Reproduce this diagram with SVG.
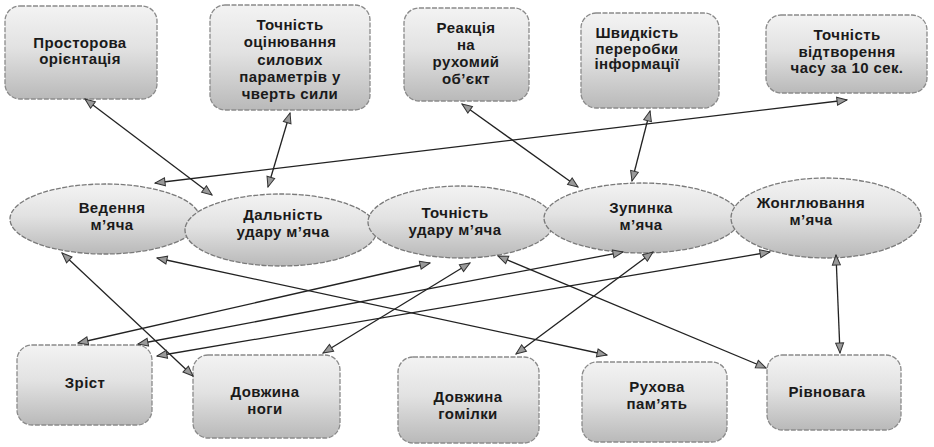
<svg xmlns="http://www.w3.org/2000/svg" width="934" height="447" viewBox="0 0 934 447">
<defs>
<linearGradient id="g" x1="0" y1="0" x2="0" y2="1">
<stop offset="0" stop-color="#f3f3f3"/>
<stop offset="0.45" stop-color="#e2e2e2"/>
<stop offset="1" stop-color="#b9b9b9"/>
</linearGradient>
<marker id="ah" viewBox="0 0 12 10" refX="11" refY="5" markerWidth="12" markerHeight="10" markerUnits="userSpaceOnUse" orient="auto-start-reverse">
<path d="M1,1 L11,5 L1,9 Z" fill="#9a9a9a" stroke="#333" stroke-width="1"/>
</marker>
</defs>
<style>
.box{fill:url(#g);stroke:#8a8a8a;stroke-width:1.3;stroke-dasharray:5 1.5}
.ell{fill:url(#g);stroke:#7a7a7a;stroke-width:1.3;stroke-dasharray:5 1.5}
.t{font-family:"Liberation Sans",Arial,sans-serif;font-weight:bold;font-size:15px;letter-spacing:0.4px;fill:#1a1a1a;text-anchor:middle}
.c line{stroke:#222;stroke-width:1.3;marker-start:url(#ah);marker-end:url(#ah)}
</style>
<rect width="934" height="447" fill="#fff"/>

<g id="n-prostorova">
<rect class="box" x="5" y="6" width="152" height="93" rx="15"/>
<text class="t" x="80" y="48">Просторова<tspan x="80" dy="16">орієнтація</tspan></text>
</g>
<g id="n-tochnist-otsin">
<rect class="box" x="210" y="5" width="160" height="105" rx="15"/>
<text class="t" x="290" y="30">Точність<tspan x="290" dy="17.3">оцінювання</tspan><tspan x="290" dy="17.3">силових</tspan><tspan x="290" dy="17.3">параметрів у</tspan><tspan x="290" dy="17.3">чверть сили</tspan></text>
</g>
<g id="n-reaktsiya">
<rect class="box" x="404" y="8" width="125" height="93" rx="15"/>
<text class="t" x="466" y="33">Реакція<tspan x="466" dy="17">на</tspan><tspan x="466" dy="17">рухомий</tspan><tspan x="466" dy="17">об’єкт</tspan></text>
</g>
<g id="n-shvydkist">
<rect class="box" x="581" y="13" width="138" height="95" rx="15"/>
<text class="t" x="637" y="38">Швидкість<tspan x="637" dy="15.5">переробки</tspan><tspan x="637" dy="15.5">інформації</tspan></text>
</g>
<g id="n-vidtvorennya">
<rect class="box" x="766" y="15" width="161" height="78" rx="15"/>
<text class="t" x="847" y="40">Точність<tspan x="847" dy="16.5">відтворення</tspan><tspan x="847" dy="16.5">часу за 10 сек.</tspan></text>
</g>

<g id="n-vedennya">
<ellipse class="ell" cx="105" cy="219" rx="95" ry="35"/>
<text class="t" x="112" y="213">Ведення<tspan x="112" dy="17">м’яча</tspan></text>
</g>
<g id="n-dalnist">
<ellipse class="ell" cx="281" cy="230" rx="96" ry="36"/>
<text class="t" x="283" y="220">Дальність<tspan x="283" dy="17">удару  м’яча</tspan></text>
</g>
<g id="n-tochnist-udaru">
<ellipse class="ell" cx="461" cy="222" rx="93" ry="36"/>
<text class="t" x="455" y="218">Точність<tspan x="455" dy="17">удару м’яча</tspan></text>
</g>
<g id="n-zupynka">
<ellipse class="ell" cx="642" cy="218" rx="98" ry="35"/>
<text class="t" x="641" y="213">Зупинка<tspan x="641" dy="17">м’яча</tspan></text>
</g>
<g id="n-zhonglyuvannya">
<ellipse class="ell" cx="826" cy="218" rx="95" ry="40"/>
<text class="t" x="811" y="208">Жонглювання<tspan x="811" dy="17">м’яча</tspan></text>
</g>

<g id="n-zrist">
<rect class="box" x="17" y="345" width="135" height="80" rx="15"/>
<text class="t" x="85" y="388">Зріст</text>
</g>
<g id="n-dovzhyna-nohy">
<rect class="box" x="193" y="355" width="147" height="83" rx="15"/>
<text class="t" x="265" y="397">Довжина<tspan x="265" dy="16.5">ноги</tspan></text>
</g>
<g id="n-dovzhyna-homilky">
<rect class="box" x="398" y="357" width="141" height="86" rx="15"/>
<text class="t" x="468" y="402">Довжина<tspan x="468" dy="16.5">гомілки</tspan></text>
</g>
<g id="n-rukhova">
<rect class="box" x="582" y="362" width="145" height="80" rx="15"/>
<text class="t" x="657" y="392">Рухова<tspan x="657" dy="17">пам’ять</tspan></text>
</g>
<g id="n-rivnovaha">
<rect class="box" x="767" y="355" width="134" height="75" rx="15"/>
<text class="t" x="827" y="397">Рівновага</text>
</g>

<g id="connectors" class="c">
<line x1="85" y1="99" x2="212" y2="195"/>
<line x1="290" y1="113" x2="268" y2="187"/>
<line x1="155" y1="183" x2="847" y2="100"/>
<line x1="462" y1="104" x2="578" y2="187"/>
<line x1="650" y1="111" x2="632" y2="181"/>
<line x1="62" y1="253" x2="193" y2="376"/>
<line x1="157" y1="258" x2="607" y2="355"/>
<line x1="430" y1="263" x2="78" y2="343"/>
<line x1="623" y1="252" x2="138" y2="344"/>
<line x1="770" y1="252" x2="157" y2="356"/>
<line x1="470" y1="263" x2="323" y2="353"/>
<line x1="653" y1="252" x2="516" y2="354"/>
<line x1="498" y1="256" x2="766" y2="368"/>
<line x1="836" y1="255" x2="840" y2="353"/>
</g>
</svg>
